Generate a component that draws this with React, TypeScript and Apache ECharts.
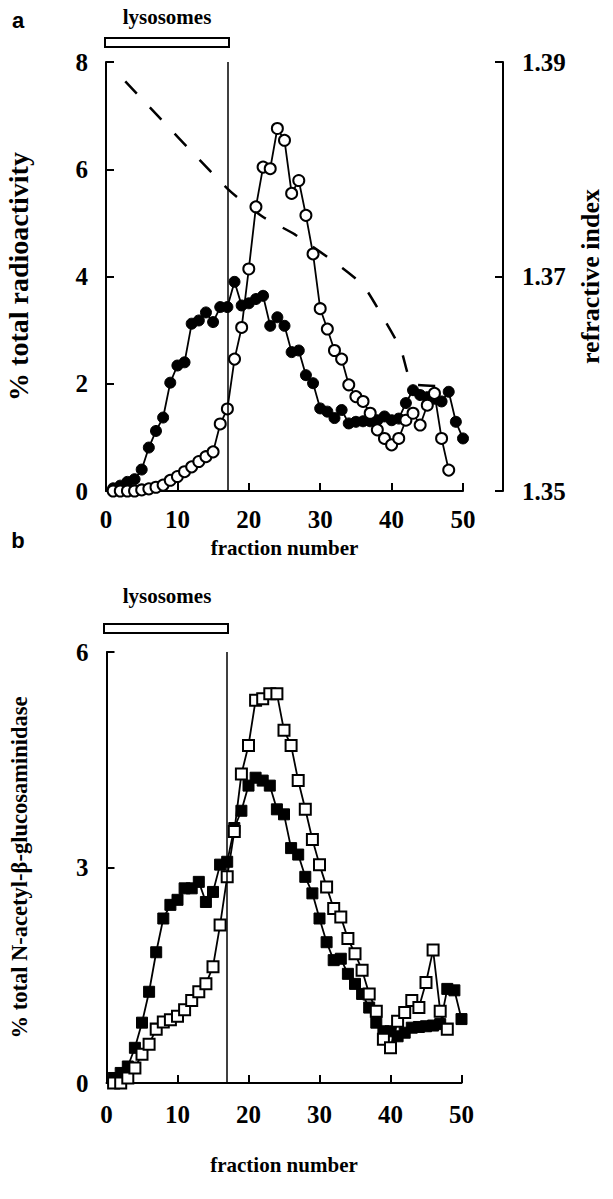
import React, { useEffect, useRef } from "react";
import * as echarts from "echarts";

// ---------- data ----------
const radioFilledFraction = [1,2,3,4,5,6,7,8,9,10,11,12,13,14,15,16,17,18,19,20,21,22,23,24,25,26,27,28,29,30,31,32,33,34,35,36,37,38,39,40,41,42,43,44,45,46,47,48,49,50];
const radioFilled = [0.05,0.1,0.17,0.22,0.4,0.81,1.12,1.37,2.02,2.34,2.4,3.12,3.18,3.33,3.15,3.43,3.43,3.9,3.46,3.5,3.58,3.64,3.08,3.24,3.08,2.59,2.62,2.16,2.01,1.54,1.48,1.36,1.51,1.26,1.29,1.3,1.3,1.32,1.39,1.32,1.35,1.64,1.88,1.79,1.75,1.72,1.67,1.85,1.29,0.98];

const radioOpenFraction = [1,2,3,4,5,6,7,8,9,10,11,12,13,14,15,16,17,18,19,20,21,22,23,24,25,26,27,28,29,30,31,32,33,34,35,36,37,38,39,40,41,42,43,44,45,46,47,48];
const radioOpen = [0,0,0,0,0.02,0.04,0.07,0.11,0.2,0.27,0.36,0.45,0.55,0.64,0.73,1.25,1.53,2.46,3.05,4.14,5.3,6.04,6.01,6.76,6.54,5.55,5.79,5.14,4.42,3.4,3.02,2.62,2.46,1.98,1.76,1.67,1.45,1.14,0.98,0.86,0.98,1.32,1.45,1.23,1.6,1.82,0.98,0.39];

const refractiveFraction = [2.7,17,21.9,26.5,33.1,36.1,38.7,41.3,42.9,46.4];
const refractiveIndex = [1.3882,1.3782,1.3756,1.3739,1.3708,1.3691,1.3663,1.3632,1.36,1.3598];

const enzFilledFraction = [1,2,3,4,5,6,7,8,9,10,11,12,13,14,15,16,17,18,19,20,21,22,23,24,25,26,27,28,29,30,31,32,33,34,35,36,37,38,39,40,41,42,43,44,45,46,47,48,49,50];
const enzFilled = [0.07,0.14,0.23,0.49,0.84,1.27,1.82,2.29,2.48,2.55,2.71,2.71,2.8,2.52,2.66,3.04,3.08,3.55,3.79,4.14,4.25,4.21,4.14,3.81,3.74,3.27,3.18,2.87,2.64,2.29,1.96,1.71,1.73,1.52,1.38,1.24,1.05,0.84,0.72,0.72,0.65,0.7,0.77,0.78,0.79,0.8,0.82,1.31,1.29,0.89];

const enzOpenFraction = [1,2,3,4,5,6,7,8,9,10,11,12,13,14,15,16,17,18,19,20,21,22,23,24,25,26,27,28,29,30,31,32,33,34,35,36,37,38,39,40,41,42,43,44,45,46,47,48];
const enzOpen = [0,0,0.07,0.21,0.4,0.54,0.75,0.85,0.88,0.93,1.02,1.15,1.27,1.38,1.62,2.2,2.87,3.5,4.3,4.7,5.33,5.35,5.42,5.42,4.91,4.7,4.21,3.81,3.39,3.04,2.73,2.43,2.31,2.01,1.8,1.57,1.24,1.0,0.61,0.49,0.86,0.98,1.15,1.05,1.4,1.85,1.0,0.75];

const lysosomeBoundary = 17;
const xTicks = { min: 0, max: 50, interval: 10 };
const radioTicks = { min: 0, max: 8, interval: 2 };
const riTicks = { min: 1.35, max: 1.39, interval: 0.02 };
const enzTicks = { min: 0, max: 6, interval: 3 };

// ---------- styling ----------
const SERIF = '"Liberation Serif", "Times New Roman", serif';
const base = { color: "#000", fontFamily: SERIF, fontWeight: "bold" as const };
const tickText = { ...base, fontSize: 25 };

const pairs = (xs: number[], ys: number[]) => xs.map((x, i) => [x, ys[i]]);

function xAxisCfg(gridIndex: number, nameGap: number, labelMargin: number) {
  return {
    gridIndex,
    type: "value",
    ...xTicks,
    axisLine: { onZero: false, lineStyle: { color: "#000", width: 2 } },
    axisTick: { inside: true, length: 8, lineStyle: { color: "#000", width: 2 } },
    axisLabel: { ...tickText, margin: labelMargin },
    splitLine: { show: false },
    name: "fraction number",
    nameLocation: "middle",
    nameGap,
    nameTextStyle: { ...base, fontSize: 21 },
  };
}

function yAxisCfg(gridIndex: number, ticks: any, name: string, nameGap: number, nameSize: number) {
  return {
    gridIndex,
    type: "value",
    position: "left",
    ...ticks,
    axisLine: { onZero: false, lineStyle: { color: "#000", width: 2 } },
    axisTick: { inside: true, length: 8, lineStyle: { color: "#000", width: 2 } },
    axisLabel: { ...tickText, margin: 18 },
    splitLine: { show: false },
    name,
    nameLocation: "middle",
    nameRotate: 90,
    nameGap,
    nameTextStyle: { ...base, fontSize: nameSize },
  };
}

const vline = {
  symbol: "none",
  silent: true,
  label: { show: false },
  lineStyle: { color: "#000", width: 1.5, type: "solid" },
  data: [{ xAxis: lysosomeBoundary }],
};

function pointSeries(xi: number, yi: number, data: number[][], symbol: string, filled: boolean, withLine: boolean) {
  return {
    type: "line",
    xAxisIndex: xi,
    yAxisIndex: yi,
    data,
    symbol,
    symbolSize: 11,
    showAllSymbol: true,
    lineStyle: { color: "#000", width: 1.8 },
    itemStyle: { color: filled ? "#000" : "#fff", borderColor: "#000", borderWidth: filled ? 1 : 2 },
    z: filled ? 3 : 4,
    markLine: withLine ? vline : undefined,
  };
}

function labelText(x: number, y: number, text: string, font: string) {
  return {
    type: "text",
    x,
    y,
    style: { text, font, fill: "#000", textAlign: "center", textVerticalAlign: "middle" },
  };
}

export default function App() {
  const ref = useRef<HTMLDivElement>(null);
  useEffect(() => {
    if (!ref.current) return;
    const chart = echarts.init(ref.current, undefined, { renderer: "svg" });
    chart.setOption({
      animation: false,
      backgroundColor: "#fff",
      grid: [
        { left: 106, top: 62, width: 357, height: 429, outerBoundsMode: "none", containLabel: false },
        { left: 106.5, top: 652, width: 355, height: 431, outerBoundsMode: "none", containLabel: false },
      ],
      xAxis: [xAxisCfg(0, 46, 16), xAxisCfg(1, 71, 19)],
      yAxis: [
        yAxisCfg(0, radioTicks, "% total radioactivity", 74, 28),
        {
          gridIndex: 0,
          type: "value",
          position: "right",
          offset: 40,
          ...riTicks,
          axisLine: { onZero: false, lineStyle: { color: "#000", width: 2 } },
          axisTick: { inside: true, length: 8, lineStyle: { color: "#000", width: 2 } },
          axisLabel: { ...tickText, margin: 19, formatter: (v: number) => v.toFixed(2) },
          splitLine: { show: false },
          name: "refractive index",
          nameLocation: "middle",
          nameRotate: 90,
          nameGap: 74,
          nameTextStyle: { ...base, fontSize: 26 },
        },
        yAxisCfg(1, enzTicks, "% total N-acetyl-β-glucosaminidase", 76, 22.5),
      ],
      series: [
        pointSeries(0, 0, pairs(radioFilledFraction, radioFilled), "circle", true, true),
        pointSeries(0, 0, pairs(radioOpenFraction, radioOpen), "circle", false, false),
        {
          type: "line",
          xAxisIndex: 0,
          yAxisIndex: 1,
          data: pairs(refractiveFraction, refractiveIndex),
          showSymbol: false,
          smooth: 0.2,
          lineStyle: { color: "#000", width: 2.5, type: [17, 19] },
          z: 2,
        },
        pointSeries(1, 2, pairs(enzFilledFraction, enzFilled), "rect", true, true),
        pointSeries(1, 2, pairs(enzOpenFraction, enzOpen), "rect", false, false),
      ],
      graphic: [
        labelText(18, 20, "a", 'bold 22px "Liberation Sans", Arial, sans-serif'),
        labelText(167, 17, "lysosomes", `bold 21px ${SERIF}`),
        { type: "rect", shape: { x: 105, y: 38, width: 124, height: 9 }, style: { fill: "#fff", stroke: "#000", lineWidth: 2 } },
        labelText(18, 540, "b", 'bold 22px "Liberation Sans", Arial, sans-serif'),
        labelText(167, 596, "lysosomes", `bold 21px ${SERIF}`),
        { type: "rect", shape: { x: 104, y: 624, width: 124, height: 9 }, style: { fill: "#fff", stroke: "#000", lineWidth: 2 } },
      ],
    });
    return () => chart.dispose();
  }, []);
  return <div ref={ref} style={{ position: "fixed", left: 0, top: 0, width: 613, height: 1199, background: "#fff" }} />;
}
